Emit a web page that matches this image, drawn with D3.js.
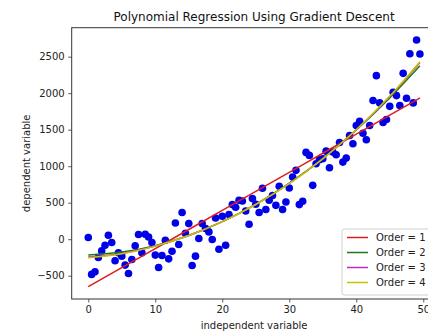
<!DOCTYPE html>
<html>
<head>
<meta charset="utf-8">
<script src="https://cdn.jsdelivr.net/npm/d3@7"></script>
<style>
  body { margin: 0; background: #fff; }
  svg { display: block; font-family: "DejaVu Sans", sans-serif; }
</style>
</head>
<body>
<svg id="chart" width="428" height="335"></svg>
<script>
// scatter: x runs 0 .. 49.5 in steps of 0.5
const xs = d3.range(0, 50, 0.5)
const ys = [
  23, -482, -446, -250, -160, -82, 55, -45, -296, -187,
  -232, -355, -469, -277, -91, 64, -187, 68, 31, -45,
  -218, -387, -223, -14, -269, -164, 223, -73, 365, 82,
  214, -360, -232, 10, 214, 146, 100, -4, 291, -137,
  314, -82, 337, 474, 437, 533, 523, 387, 205, 556,
  478, 365, 697, 406, 533, 597, 464, 724, 406, 510,
  701, 851, 943, 474, 519, 1189, 1148, 738, 1034, 1089,
  1102, 1206, 979, 1193, 1157, 1325, 1056, 1111, 1421, 1307,
  1557, 1616, 1452, 1362, 1557, 1899, 2240, 1867, 1600, 1640,
  1820, 2012, 1967, 1831, 2272, 1931, 2540, 1867, 2728, 2537
]

const fitX = [0, 5, 10, 15, 20, 25, 30, 35, 40, 45, 49.5]
const order1 = [-650, -389, -128, 133, 394, 655, 916, 1177, 1438, 1699, 1935]
const order2 = [-215, -176, -88, 51, 240, 478, 768, 1104, 1497, 1936, 2375]
const order3 = [-245, -195, -93, 50, 240, 476, 763, 1102, 1499, 1952, 2420]
const order4 = [-255, -200, -95, 50, 240, 475, 760, 1100, 1500, 1960, 2432]

const seriesNames = ["Order = 1", "Order = 2", "Order = 3", "Order = 4"]
const seriesColours = ["#e01b1b", "#1a7a1a", "#bf2abf", "#c4c400"]

const xTicks = [0, 10, 20, 30, 40, 50]
const yTicks = [-500, 0, 500, 1000, 1500, 2000, 2500]

const svg = d3.select("#chart")
const m = {left: 71.7, right: 436.5, top: 27.7, bottom: 299}

const x = d3.scaleLinear().domain([-2.475, 51.975]).range([m.left, m.right])
const y = d3.scaleLinear().domain([-819, 2897]).range([m.bottom, m.top])

const plot = svg.append("g")

// points
plot.selectAll("circle")
  .data(xs.map((v, i) => [v, ys[i]]))
  .enter().append("circle")
  .attr("cx", d => x(d[0]))
  .attr("cy", d => y(d[1]))
  .attr("r", 3.8)
  .attr("fill", "#0000e6")

// regression lines
const line = d3.line()
  .x(d => x(d[0]))
  .y(d => y(d[1]))
  .curve(d3.curveMonotoneX)

;[order1, order2, order3, order4].forEach((vals, i) => {
  plot.append("path")
    .datum(fitX.map((v, j) => [v, vals[j]]))
    .attr("d", line)
    .attr("fill", "none")
    .attr("stroke", seriesColours[i])
    .attr("stroke-width", 1.5)
})

// axes
const fmt = d => d < 0 ? "\u2212" + Math.abs(d) : String(d)

svg.append("g")
  .attr("transform", `translate(0,${m.bottom})`)
  .call(d3.axisBottom(x).tickValues(xTicks).tickSize(3.5).tickPadding(3.5).tickFormat(fmt))
  .call(g => g.select(".domain").remove())

svg.append("g")
  .attr("transform", `translate(${m.left},0)`)
  .call(d3.axisLeft(y).tickValues(yTicks).tickSize(3.5).tickPadding(3.5).tickFormat(fmt))
  .call(g => g.select(".domain").remove())

svg.selectAll(".tick text")
  .attr("font-size", 10)
  .attr("font-family", "DejaVu Sans")
  .attr("fill", "#222")
svg.selectAll(".tick line").attr("stroke", "#333").attr("stroke-width", 0.8)

// frame
svg.append("rect")
  .attr("x", m.left).attr("y", m.top)
  .attr("width", m.right - m.left).attr("height", m.bottom - m.top)
  .attr("fill", "none")
  .attr("stroke", "#333")
  .attr("stroke-width", 1)

// titles
svg.append("text")
  .attr("x", (m.left + m.right) / 2).attr("y", 21)
  .attr("text-anchor", "middle")
  .attr("font-size", 12)
  .attr("fill", "#111")
  .text("Polynomial Regression Using Gradient Descent")

svg.append("text")
  .attr("x", (m.left + m.right) / 2).attr("y", 329)
  .attr("text-anchor", "middle")
  .attr("font-size", 10)
  .attr("fill", "#222")
  .text("independent variable")

svg.append("text")
  .attr("transform", `translate(30,${(m.top + m.bottom) / 2}) rotate(-90)`)
  .attr("text-anchor", "middle")
  .attr("font-size", 10)
  .attr("fill", "#222")
  .text("dependent variable")

// legend
const legend = svg.append("g").attr("transform", "translate(342,229)")
legend.append("rect")
  .attr("x", 0).attr("y", 0)
  .attr("width", 120).attr("height", 66)
  .attr("rx", 2.5)
  .attr("fill", "#fff").attr("fill-opacity", 0.8)
  .attr("stroke", "#d0d0d0").attr("stroke-width", 1)

seriesNames.forEach((name, i) => {
  const cy = 8.5 + i * 15
  legend.append("line")
    .attr("x1", 5).attr("x2", 26)
    .attr("y1", cy).attr("y2", cy)
    .attr("stroke", seriesColours[i])
    .attr("stroke-width", 1.5)
  legend.append("text")
    .attr("x", 34).attr("y", cy + 3.6)
    .attr("font-size", 10)
    .attr("fill", "#222")
    .text(name)
})
</script>
</body>
</html>
